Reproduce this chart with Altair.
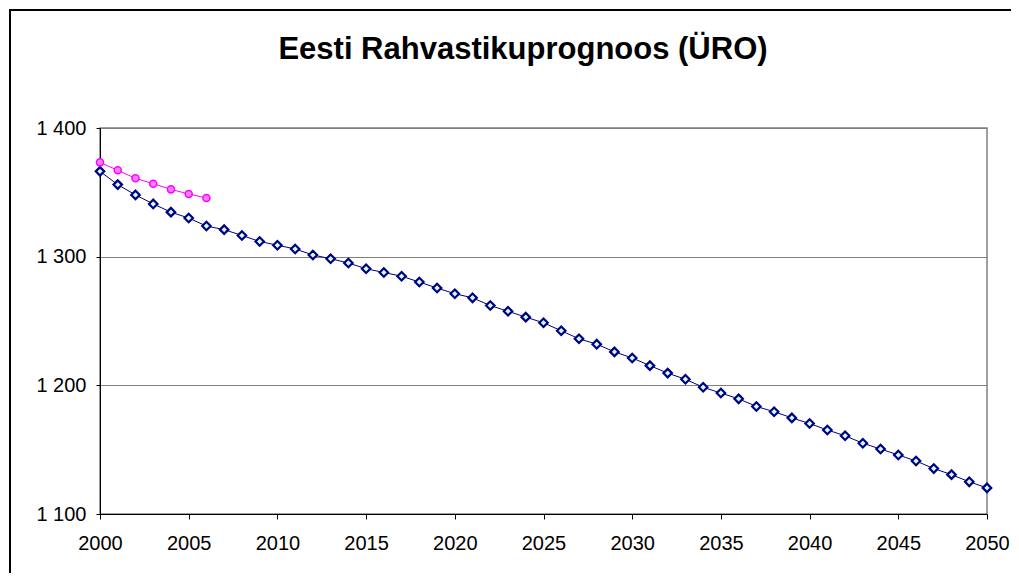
import altair as alt
import pandas as pd

years = list(range(2000, 2051))
projection = [
    1366.3, 1356.0, 1348.0, 1341.0, 1334.6, 1330.0, 1323.8, 1321.0, 1316.5, 1311.8,
    1308.9, 1306.0, 1301.3, 1298.4, 1295.1, 1290.6, 1287.7, 1284.8, 1280.3, 1275.6,
    1271.2, 1268.0, 1262.0, 1257.6, 1253.0, 1248.6, 1242.4, 1236.2, 1232.0, 1226.0,
    1221.3, 1215.3, 1209.5, 1204.7, 1198.5, 1194.0, 1189.5, 1183.6, 1179.5, 1174.7,
    1170.3, 1165.3, 1160.8, 1155.0, 1150.5, 1145.9, 1141.2, 1135.3, 1130.6, 1125.0,
    1120.3,
]
actual_years = list(range(2000, 2007))
actual = [1373.3, 1367.1, 1360.9, 1356.7, 1352.3, 1348.7, 1345.6]

title_text = "Eesti Rahvastikuprognoos (ÜRO)"
y_ticks = [1100, 1200, 1300, 1400]
x_ticks = list(range(2000, 2051, 5))

df_proj = pd.DataFrame({"year": years, "value": projection})
df_act = pd.DataFrame({"year": actual_years, "value": actual})
df_one = pd.DataFrame({"k": [0]})

FONT = "Liberation Sans"

x_enc = alt.X("year:Q",
              scale=alt.Scale(domain=[2000, 2050], nice=False, zero=False),
              axis=alt.Axis(values=x_ticks, format="d", grid=False, title=None,
                            labelFlush=False, labelOverlap=False,
                            domainColor="black", domainWidth=1,
                            tickColor="black", tickSize=5, tickWidth=1,
                            labelFont=FONT, labelFontSize=20, labelColor="black",
                            labelPadding=14))
y_enc = alt.Y("value:Q",
              scale=alt.Scale(domain=[1100, 1400], nice=False, zero=False),
              axis=alt.Axis(values=y_ticks, title=None,
                            labelExpr="replace(format(datum.value, ','), ',', ' ')",
                            grid=True, gridColor="#808080", gridWidth=1,
                            domainColor="black", domainWidth=1,
                            tickColor="black", tickSize=4, tickWidth=1,
                            labelFont=FONT, labelFontSize=20, labelColor="black",
                            labelPadding=10))

proj_line = alt.Chart(df_proj).mark_line(color="#000080", strokeWidth=1).encode(x=x_enc, y=y_enc)
proj_pts = alt.Chart(df_proj).mark_point(shape="diamond", size=72, filled=True,
                                          fill="#ccffff", stroke="#000080",
                                          strokeWidth=2.2, opacity=1).encode(x="year:Q", y="value:Q")
act_line = alt.Chart(df_act).mark_line(color="#ff00ff", strokeWidth=1).encode(x="year:Q", y="value:Q")
act_pts = alt.Chart(df_act).mark_point(shape="circle", size=50, filled=True,
                                        fill="#ff80ff", stroke="#ff00ff",
                                        strokeWidth=1.5, opacity=1).encode(x="year:Q", y="value:Q")

frame_left = alt.Chart(df_one).mark_rule(color="black", strokeWidth=2).encode(
    x=alt.value(-90), y=alt.value(-119), y2=alt.value(445))
frame_top = alt.Chart(df_one).mark_rule(color="black", strokeWidth=2).encode(
    x=alt.value(-91), x2=alt.value(911), y=alt.value(-118))

title = alt.Chart(df_one).mark_text(text=title_text, font=FONT, fontSize=31, fontWeight="bold",
                                    align="center", baseline="alphabetic", color="black").encode(
    x=alt.value(423), y=alt.value(-69))

chart = alt.layer(frame_left, frame_top, title, proj_line, act_line, proj_pts, act_pts).properties(
    width=887, height=386,
    autosize=alt.AutoSizeParams(type="none"),
    padding={"left": 92, "top": 120, "right": 24, "bottom": 59},
    background="white",
).configure_view(stroke="#808080", strokeWidth=1.5)

chart.save("out.html", embed_options={"renderer": "svg", "actions": False})
